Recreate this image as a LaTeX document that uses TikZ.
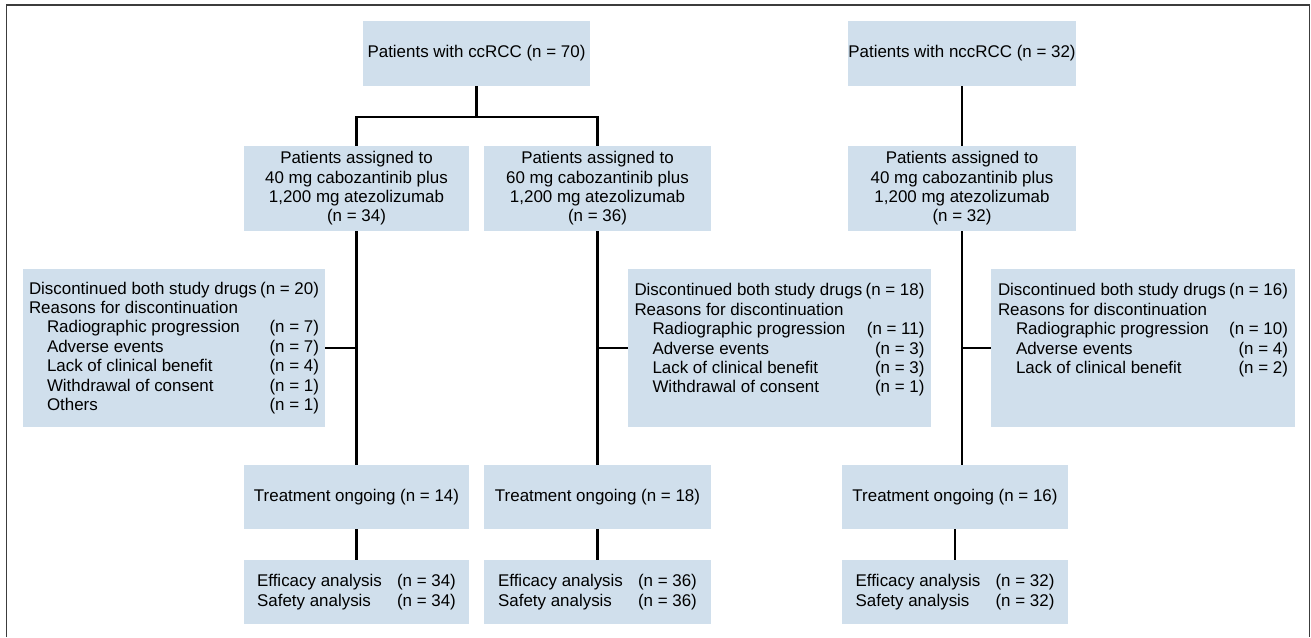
\documentclass[tikz,border=0pt]{standalone}
\usepackage{fontspec}
\setmainfont{Liberation Sans}
\newlength\px \setlength\px{0.75pt}
\definecolor{boxfill}{RGB}{208,223,236}
\definecolor{framec}{RGB}{60,60,60}
\newcommand\dline[2]{\makebox[290\px][l]{\hspace*{18\px}#1\hfill#2}}
\newcommand\aline[2]{\makebox[140\px][l]{#1}#2}
\begin{document}
\begin{tikzpicture}[x=0.75pt,y=-0.75pt,
  box/.style={fill=boxfill, draw=none, inner sep=0pt, font=\fontsize{12.7pt}{14.55pt}\selectfont},
  conn/.style={draw=black, line width=1.65pt},
  frameline/.style={draw=framec, line width=1.1pt}]
\useasboundingbox (0,0) rectangle (1311,637);
\draw[frameline] (6.5,637) -- (6.5,5) -- (1309.5,5) -- (1309.5,637);

% top
\node[box, minimum width=227\px, minimum height=65\px] (ccA) at (476.5,53.5) {Patients with ccRCC (n = 70)};
\node[box, minimum width=228\px, minimum height=65\px] (ncc) at (962,53.5) {Patients with nccRCC (n = 32)};

% level 2
\node[box, minimum width=225\px, minimum height=85\px, align=center] (l2A) at (356.5,188.5)
  {Patients assigned to\\40 mg cabozantinib plus\\1,200 mg atezolizumab\\(n = 34)};
\node[box, minimum width=227\px, minimum height=85\px, align=center] (l2B) at (597.5,188.5)
  {Patients assigned to\\60 mg cabozantinib plus\\1,200 mg atezolizumab\\(n = 36)};
\node[box, minimum width=228\px, minimum height=85\px, align=center] (l2C) at (962,188.5)
  {Patients assigned to\\40 mg cabozantinib plus\\1,200 mg atezolizumab\\(n = 32)};

% discontinued
\node[box, minimum width=302\px, minimum height=158\px, align=left] (dA) at (174,348)
  {\makebox[290\px][l]{Discontinued both study drugs\hfill(n = 20)}\\
   Reasons for discontinuation\\
   \dline{Radiographic progression}{(n = 7)}\\
   \dline{Adverse events}{(n = 7)}\\
   \dline{Lack of clinical benefit}{(n = 4)}\\
   \dline{Withdrawal of consent}{(n = 1)}\\
   \dline{Others}{(n = 1)}};
\node[box, minimum width=303\px, minimum height=158\px, align=left] (dB) at (779.5,348)
  {\makebox[290\px][l]{Discontinued both study drugs\hfill(n = 18)}\\
   Reasons for discontinuation\\
   \dline{Radiographic progression}{(n = 11)}\\
   \dline{Adverse events}{(n = 3)}\\
   \dline{Lack of clinical benefit}{(n = 3)}\\
   \dline{Withdrawal of consent}{(n = 1)}\\
   \mbox{}};
\node[box, minimum width=304\px, minimum height=158\px, align=left] (dC) at (1143,348)
  {\makebox[290\px][l]{Discontinued both study drugs\hfill(n = 16)}\\
   Reasons for discontinuation\\
   \dline{Radiographic progression}{(n = 10)}\\
   \dline{Adverse events}{(n = 4)}\\
   \dline{Lack of clinical benefit}{(n = 2)}\\
   \mbox{}\\
   \mbox{}};

% treatment ongoing
\node[box, minimum width=225\px, minimum height=64\px] (tA) at (356.5,497) {Treatment ongoing (n = 14)};
\node[box, minimum width=227\px, minimum height=64\px] (tB) at (597.5,497) {Treatment ongoing (n = 18)};
\node[box, minimum width=226\px, minimum height=64\px] (tC) at (955,497) {Treatment ongoing (n = 16)};

% analysis
\node[box, minimum width=225\px, minimum height=64\px, align=left] (eA) at (356.5,592)
  {\aline{Efficacy analysis}{(n = 34)}\\\aline{Safety analysis}{(n = 34)}};
\node[box, minimum width=227\px, minimum height=64\px, align=left] (eB) at (597.5,592)
  {\aline{Efficacy analysis}{(n = 36)}\\\aline{Safety analysis}{(n = 36)}};
\node[box, minimum width=226\px, minimum height=64\px, align=left] (eC) at (955,592)
  {\aline{Efficacy analysis}{(n = 32)}\\\aline{Safety analysis}{(n = 32)}};

% connectors
\coordinate (j) at (476.5,117);
\draw[conn] (ccA.south) -- (j);
\draw[conn] (l2A.north) |- (j) -| (l2B.north);
\draw[conn] (ncc.south) -- (l2C.north);
\draw[conn] (l2A.south) -- (tA.north);
\draw[conn] (l2B.south) -- (tB.north);
\draw[conn] (l2C.south) -- (l2C.south |- tC.north);
\draw[conn] (dA.east) -- (dA.east -| l2A.south);
\draw[conn] (dB.west) -- (dB.west -| l2B.south);
\draw[conn] (dC.west) -- (dC.west -| l2C.south);
\draw[conn] (tA.south) -- (eA.north);
\draw[conn] (tB.south) -- (eB.north);
\draw[conn] (tC.south) -- (eC.north);
\end{tikzpicture}
\end{document}
